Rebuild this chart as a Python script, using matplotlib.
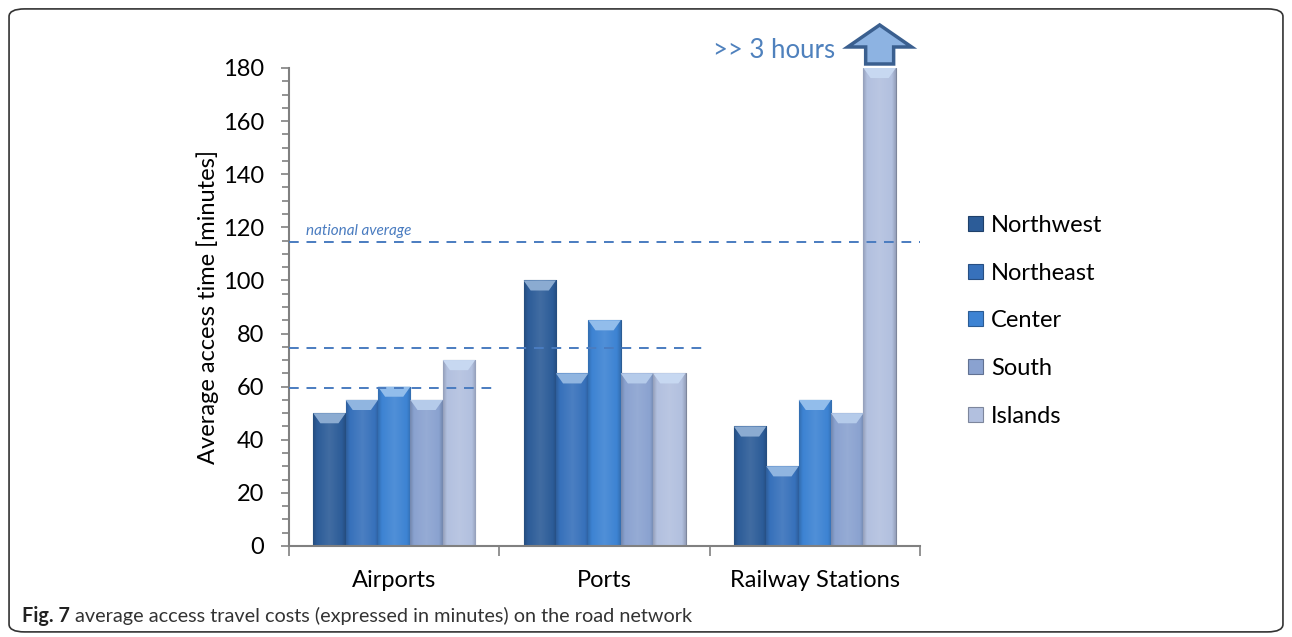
import numpy as np
import matplotlib
matplotlib.use("Agg")
import matplotlib.pyplot as plt
from matplotlib.patches import FancyBboxPatch, FancyArrow, Polygon
import matplotlib.colors as mcolors

plt.rcParams['font.family'] = ['Lato', 'DejaVu Sans']

categories = ["Airports", "Ports", "Railway Stations"]
regions = ["Northwest", "Northeast", "Center", "South", "Islands"]
northwest = [50, 100, 45]
northeast = [55, 65, 30]
center = [60, 85, 55]
south = [55, 65, 50]
islands = [70, 65, 180]
series = [northwest, northeast, center, south, islands]
colors = ["#2c5c98", "#3771bb", "#3d83d3", "#8aa2d0", "#b2c0df"]

# dashed reference lines: (value, x end in category units)
ref_lines = [(114.5, 2.5), (74.5, 1.48), (59.5, 0.48)]
yticks = list(range(0, 181, 20))

fig = plt.figure(figsize=(12.92, 6.37), dpi=100)
border = FancyBboxPatch((0.007, 0.008), 0.986, 0.978, boxstyle="round,pad=0,rounding_size=0.012",
                        transform=fig.transFigure, facecolor="none", edgecolor="#333333", lw=1.2,
                        zorder=-1)
fig.patches.append(border)

ax = fig.add_axes([0.2237, 0.1429, 0.4884, 0.7504])
ax.set_facecolor("none")
x = np.arange(len(categories))
bw = 0.154

def shade(c, f):
    r = np.array(mcolors.to_rgb(c))
    if f >= 0:
        return tuple(r + (1 - r) * f)
    return tuple(r * (1 + f))

def mix(c, c2, f):
    a = np.array(mcolors.to_rgb(c)); b = np.array(mcolors.to_rgb(c2))
    return tuple(a * (1 - f) + b * f)

for i, (vals, col) in enumerate(zip(series, colors)):
    xs = x + (i - 2) * bw
    bars = ax.bar(xs, vals, width=bw, color=col, edgecolor=shade(col, -0.3), lw=0.8,
                  label=regions[i], zorder=2)
    for b in bars:
        x0, w, h = b.get_x(), b.get_width(), b.get_height()
        t = np.linspace(0, 1, 64)
        prof = 1 - np.abs(t - 0.5) * 2.6
        img = np.zeros((1, 64, 3))
        for k in range(64):
            f = prof[k]
            img[0, k] = shade(col, 0.10 * f) if f > 0 else shade(col, 0.55 * f)
        im = ax.imshow(img, extent=(x0, x0 + w, 0, h), aspect='auto', zorder=2.1, interpolation='bilinear')
        im.set_clip_path(b)
        top = min(h, 180)
        bev = Polygon([(x0, top), (x0 + w, top), (x0 + w - w * 0.22, top - 3.8), (x0 + w * 0.22, top - 3.8)],
                      closed=True, facecolor=mix(col, "#d8ecff", 0.55), edgecolor='none', zorder=2.2)
        ax.add_patch(bev)

for val, xe in ref_lines:
    ax.hlines(val, -0.5, xe, colors="#4a7cc0", linestyles=(0, (5, 4)), lw=1.4, zorder=3)
ax.text(-0.42, 117, "national average", fontsize=11, style='italic', color="#4a7cc0")

ax.set_xlim(-0.5, 2.5)
ax.set_ylim(0, 180)
ax.set_yticks(yticks)
ax.set_yticks(range(0, 181, 5), minor=True)
ax.set_xticks([-0.5, 0.5, 1.5, 2.5])
ax.set_xticklabels([])
ax.set_xticks(x, minor=True)
ax.set_xticklabels(categories, minor=True, fontsize=17)
ax.tick_params(axis='x', which='minor', length=0, pad=17)
ax.tick_params(axis='x', which='major', length=7, color="#808080", width=1.2)
ax.tick_params(axis='y', which='major', length=6, color="#808080", labelsize=17, pad=12, width=1.2)
ax.tick_params(axis='y', which='minor', length=5, color="#808080", width=1.2)
for s in ["top", "right"]:
    ax.spines[s].set_visible(False)
for s in ["left", "bottom"]:
    ax.spines[s].set_color("#808080")
    ax.spines[s].set_linewidth(1.5)
ax.set_ylabel("Average access time [minutes]", fontsize=17, labelpad=3)

# arrow indicating >> 3 hours
ax_x = 2 + 2 * bw
arr = FancyArrow(ax_x, 181.5, 0, 14.7, width=0.133, head_width=0.304, head_length=8.3,
                 length_includes_head=True, facecolor="#8db3e2", edgecolor="#3a5f8f", lw=2.5,
                 clip_on=False, zorder=4)
ax.add_patch(arr)
ax.text(ax_x - 0.21, 186.5, ">> 3 hours", fontsize=18.5, color="#4f81bd", ha='right', va='center',
        clip_on=False)

leg = ax.legend(loc='upper left', bbox_to_anchor=(1.043, 0.737), frameon=False, fontsize=17,
                handlelength=0.6, handleheight=0.6, labelspacing=1.13, handletextpad=0.35)

t1 = fig.text(0.017, 0.024, "Fig. 7", fontsize=14.3, fontweight='bold', color="#222222")
fig.canvas.draw()
bb = t1.get_window_extent()
x1 = fig.transFigure.inverted().transform((bb.x1 + 5, 0))[0]
fig.text(x1, 0.024, "average access travel costs (expressed in minutes) on the road network",
         fontsize=14.3, color="#333333")

fig.savefig("out.png", dpi=100)
